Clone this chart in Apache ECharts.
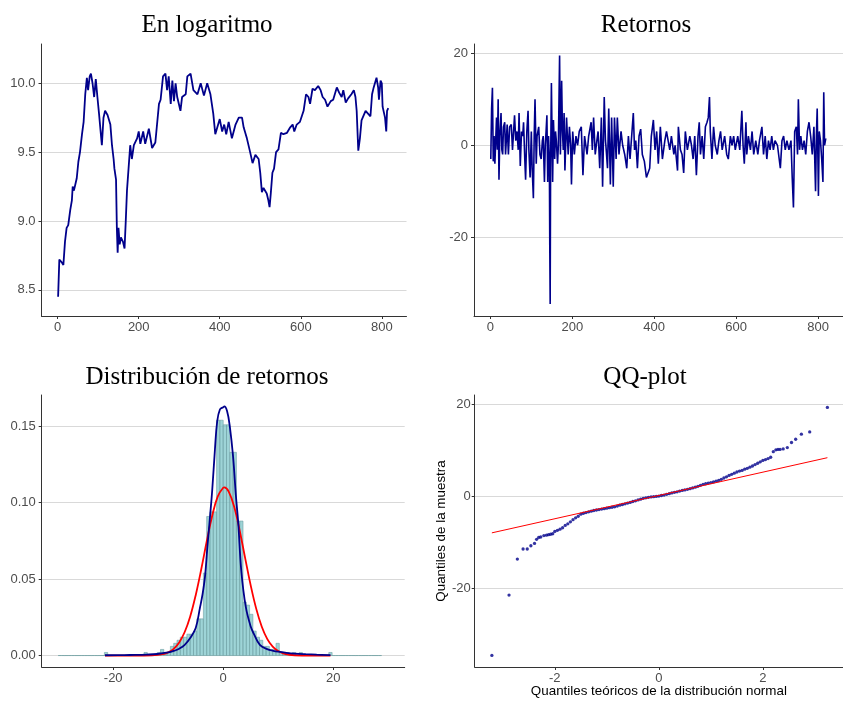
<!DOCTYPE html>
<html>
<head>
<meta charset="utf-8">
<script src="https://cdn.jsdelivr.net/npm/echarts@6/dist/echarts.min.js"></script>
<style>html,body{margin:0;padding:0;background:#fff}#c{width:843px;height:701px}</style>
</head>
<body>
<div id="c"></div>
<script>
// ---- Panel 1: En logaritmo ----
const logT = [1,4,10,14,18,22,26,31,35,37,40,47,51,55,60,64,68,72,75,79,82,86,90,94,98,102,105,109,113,117,123,130,134,138,140,144,146,148,150,153,156,161,165,168,171,175,179,183,188,196,200,204,211,216,225,233,241,250,254,260,266,270,274,279,283,287,291,295,303,307,316,320,328,335,345,353,361,369,377,384,389,393,400,406,411,416,422,430,439,447,455,459,467,475,481,488,496,500,504,508,512,516,520,523,526,530,534,539,545,551,557,566,574,580,584,590,598,607,613,619,623,629,635,643,649,654,660,666,674,680,689,695,701,705,711,717,725,731,735,738,742,746,750,754,760,766,772,776,780,787,791,793,797,800,802,805,808,811,813,816];
const logV = [8.45,8.72,8.70,8.68,8.85,8.95,8.97,9.08,9.15,9.25,9.22,9.31,9.43,9.50,9.63,9.72,9.92,10.04,9.95,10.05,10.07,10.0,9.90,10.03,9.90,9.78,9.78,9.55,9.75,9.80,9.77,9.70,9.55,9.45,9.38,9.30,8.95,8.77,8.95,8.83,8.88,8.85,8.80,9.0,9.22,9.23,9.55,9.45,9.55,9.60,9.65,9.56,9.65,9.56,9.67,9.53,9.57,9.85,9.88,10.05,10.07,9.95,10.05,9.85,10.02,9.87,10.0,9.90,9.80,9.90,9.92,10.05,10.07,9.95,9.92,10.0,9.91,10.0,9.92,9.78,9.63,9.64,9.74,9.65,9.70,9.63,9.72,9.60,9.70,9.75,9.75,9.68,9.60,9.50,9.42,9.48,9.45,9.35,9.21,9.24,9.22,9.20,9.15,9.10,9.20,9.35,9.38,9.50,9.52,9.64,9.63,9.64,9.68,9.70,9.65,9.70,9.72,9.80,9.92,9.90,9.85,9.96,9.95,9.98,9.95,9.90,9.88,9.83,9.87,9.88,9.97,9.93,9.90,9.95,9.86,9.89,9.92,9.95,9.90,9.80,9.51,9.60,9.73,9.72,9.80,9.78,9.76,9.92,9.97,10.04,9.97,9.88,10.02,10.0,9.83,9.82,9.75,9.65,9.80,9.82];
const logXTicks = [0,200,400,600,800];
const logYTicks = [8.5,9.0,9.5,10.0];

// ---- Panel 2: Retornos ----
const retT = [1,3,5,7,9,11,13,15,17,19,21,23,26,28,30,32,35,37,41,44,47,51,54,59,62,65,68,70,73,76,79,81,84,86,89,92,94,97,100,102,105,107,109,112,114,118,121,124,127,129,132,134,136,138,140,142,144,145,146,147,149,151,152,154,157,159,161,164,166,169,171,174,176,178,180,182,186,190,193,196,198,201,205,209,213,217,222,226,230,236,240,246,249,252,256,260,263,267,271,274,278,281,282,286,289,293,296,300,303,307,310,314,319,323,328,333,337,341,345,349,352,355,359,363,367,371,376,381,385,389,393,398,402,406,410,415,420,426,430,434,438,442,448,451,457,459,464,468,472,476,481,487,491,495,499,503,507,510,513,517,521,525,529,532,535,537,541,545,549,554,558,562,566,572,577,581,586,590,594,598,604,609,614,617,620,624,626,630,635,639,643,648,653,657,663,667,671,675,679,683,687,691,695,701,708,712,716,720,724,729,734,737,740,743,747,750,752,755,758,762,766,770,774,778,782,786,790,794,796,798,801,803,806,809,812,814,816,819];
const retV = [-3,8,12.5,-3.5,2,-4,1,6,-1,10,-7.5,2,7,-1,-2,4,5,-2,4.5,-2,4,4.5,-1,6.5,1,3,-1,7,-4.5,3,2,5,-3,-7.5,3,7.5,-1,-7,3,-5,-11.5,2,10,-4,2,4,-2,-3,1,2,-8,0,3,6.5,-8,2,-3,-21.5,-34.5,-5,13.5,-1,-8,5.5,-3,3,1,-4,0,19.5,-2,14,3,-1,7,-5.5,6,-2,4,0,-8.5,3,-2,2,0,3,4,-6.5,2,-2,2,5,-1,6,-2,1,3,-5,6,-9,10.5,1,0,-5,8,-8.5,6,-9,6,-3,6,-2,3,0,-2,-5,2,-3,2,7,-1,1,-5,2,3.5,-2,-3.5,-7,-7,-5,2,5.5,-1,3,-4,4,-3,1,3,3,-1,2,-2,0,-5.5,4,-1,-2,-6,3,-1,2,0,-3,2,-6.5,2,5,-2,2,-3,4,5,6,10.5,3,-3,4,0,-2,1,3,-1,2,-2,-3,2,0,2,-1,2,-1,7.5,0,-4,5,-2,2,-1,3,-2,1,-2,1,4,-2,2,-3,1,-1,2,-1,1,0,-5,1,2,-1,1,-1,1,-7,-13.5,3,4,-2,10,-1,2,-1,1,-2,3,5,2,-2,4,-10,2,8,-11,3,1,-3,-8,11.5,0,1.5];
const retYTicks = [-20,0,20];

// ---- Panel 3: Distribución de retornos ----
const binStart = -30;
const binWidth = 0.6;
const histDensity = [0,0,0,0,0,0,0,0,0,0,0,0,0,0,0.002,0,0,0,0,0,0,0,0,0,0,0,0.002,0,0,0,
  0.002,0.004,0.002,0.002,0.006,0.008,0.010,0.012,0.012,0.014,0.014,0.016,0.024,0.024,0.054,0.091,0.094,0.094,0.154,0.154,
  0.151,0.151,0.133,0.133,0.088,0.088,0.035,0.033,0.027,0.016,0.012,0.010,0.006,0.006,0.004,0.004,0.008,0.002,0.002,0.002,
  0,0.002,0,0.002,0,0,0,0,0,0,0,0,0.002,0,0,0,0,0,0,0,0,0,0,0,0,0,0,0];
const kdeX = [-21.5,-18,-16,-14,-12,-10,-9,-8,-7,-6,-5,-4.24,-3.76,-3.3,-2.9,-2.42,-2,-1.5,-1.1,-0.6,0,0.2,0.7,1.2,1.8,2.3,2.73,3.3,4.1,5,5.6,6.67,8,9.1,10,11.5,13,15,17,19.5];
const kdeY = [0.0002,0.0003,0.0004,0.0006,0.0010,0.0020,0.0030,0.0045,0.0070,0.0115,0.0180,0.031,0.040,0.052,0.070,0.090,0.108,0.135,0.153,0.161,0.1625,0.163,0.160,0.150,0.130,0.105,0.087,0.055,0.032,0.019,0.014,0.0070,0.0042,0.0031,0.0025,0.0018,0.0013,0.0009,0.0006,0.0003];
const normX = [-21.5,-16,-13,-11,-10,-9,-8,-7,-6,-5,-4,-3,-2,-1,0,0.2,1,2,3,4,5,6,7,8,9,10,11,13,16,19.5];
const normY = [0,0,0.0002,0.0009,0.0021,0.0044,0.0086,0.0154,0.0256,0.0395,0.0563,0.0746,0.0915,0.104,0.1098,0.110,0.1073,0.0973,0.0817,0.0636,0.0459,0.0307,0.0190,0.0109,0.0058,0.0029,0.0013,0.0002,0,0];
const histXTicks = [-20,0,20];
const histYTicks = [0,0.05,0.10,0.15];

// ---- Panel 4: QQ-plot ----
const qqTheo = [-3.21,-2.88,-2.72,-2.61,-2.53,-2.46,-2.39,-2.35,-2.31,-2.27,-2.21,-2.16,-2.12,-2.08,-2.04,
  -2.00,-1.95,-1.90,-1.85,-1.80,-1.75,-1.70,-1.65,-1.60,-1.55,-1.50,-1.45,-1.40,-1.35,-1.30,-1.25,-1.20,-1.15,-1.10,-1.05,
  -1.00,-0.95,-0.90,-0.85,-0.80,-0.75,-0.70,-0.65,-0.60,-0.55,-0.50,-0.45,-0.40,-0.35,-0.30,-0.25,-0.20,-0.15,-0.10,-0.05,
  0.00,0.05,0.10,0.15,0.20,0.25,0.30,0.35,0.40,0.45,0.50,0.55,0.60,0.65,0.70,0.75,0.80,0.85,0.90,0.95,
  1.00,1.05,1.10,1.15,1.20,1.25,1.30,1.35,1.40,1.45,1.50,1.55,1.60,1.65,1.70,1.75,1.80,1.85,1.90,1.95,
  2.00,2.05,2.10,2.15,2.20,2.25,2.29,2.33,2.39,2.47,2.55,2.63,2.74,2.90,3.24];
const qqSample = [-34.5,-21.4,-13.6,-11.4,-11.4,-10.7,-10.2,-9.3,-8.9,-8.8,-8.5,-8.4,-8.3,-8.2,-8.1,
  -7.6,-7.35,-7.1,-6.8,-6.3,-5.95,-5.5,-5.05,-4.65,-4.3,-3.85,-3.65,-3.5,-3.35,-3.2,-3.05,-2.95,-2.85,-2.75,-2.65,
  -2.55,-2.45,-2.35,-2.25,-2.1,-1.9,-1.75,-1.6,-1.45,-1.3,-1.1,-0.95,-0.75,-0.6,-0.42,-0.3,-0.2,-0.1,-0.05,0.0,
  0.07,0.2,0.3,0.45,0.6,0.75,0.88,1.0,1.15,1.3,1.42,1.55,1.68,1.85,2.0,2.2,2.4,2.6,2.75,2.9,
  3.0,3.15,3.3,3.45,3.7,4.0,4.25,4.55,4.8,5.05,5.3,5.5,5.65,5.9,6.1,6.35,6.6,6.9,7.2,7.5,
  7.8,8.0,8.2,8.5,9.7,10.1,10.2,10.2,10.3,10.6,11.7,12.4,13.5,14.0,19.3];
const qqLineX = [-3.21, 3.24];
const qqLineY = [-7.9, 8.4];
const qqXTicks = [-2,0,2];
const qqYTicks = [-20,0,20];

// ---- Build chart ----
const NAVY = '#00008B';
const LABEL = {color:'#4D4D4D', fontSize:13, fontFamily:'Liberation Sans, Arial, sans-serif'};
function xAx(grid, min, max, ticks, fmt, extra) {
  return Object.assign({
    type:'value', gridIndex:grid, min:min, max:max,
    axisLine:{show:true, onZero:false, lineStyle:{color:'#333333', width:1}},
    axisTick:{show:true, length:3, customValues:ticks, lineStyle:{color:'#333333'}},
    axisLabel:Object.assign({customValues:ticks, margin:5, formatter:fmt}, LABEL),
    splitLine:{show:false}
  }, extra||{});
}
function yAx(grid, min, max, ticks, fmt, extra, margin) {
  return Object.assign({
    type:'value', gridIndex:grid, min:min, max:max,
    axisLine:{show:true, onZero:false, lineStyle:{color:'#333333', width:1}},
    axisTick:{show:true, length:3, customValues:ticks, lineStyle:{color:'#333333'}},
    axisLabel:Object.assign({customValues:ticks, margin:margin||6, formatter:fmt}, LABEL),
    splitLine:{show:true, lineStyle:{color:'#D9D9D9', width:1}}
  }, extra||{});
}
const fmtInt = v => String(Math.round(v));
const TITLE = {fontFamily:'Liberation Serif, Times New Roman, serif', fontSize:25, fontWeight:'normal', color:'#000'};

const chart = echarts.init(document.getElementById('c'), null, {renderer:'canvas'});
chart.setOption({
  animation:false,
  backgroundColor:'#fff',
  title:[
    {text:'En logaritmo', left:202, top:8, textAlign:'center', textStyle:TITLE},
    {text:'Retornos', left:641, top:8, textAlign:'center', textStyle:TITLE},
    {text:'Distribución de retornos', left:202, top:360, textAlign:'center', textStyle:TITLE},
    {text:'QQ-plot', left:640, top:360, textAlign:'center', textStyle:TITLE}
  ],
  grid:[
    {left:41.5, top:44, width:365, height:272},
    {left:474, top:44, width:372, height:272},
    {left:41.7, top:395, width:363, height:272},
    {left:474.7, top:395, width:369, height:272}
  ],
  xAxis:[
    xAx(0, -40, 861, logXTicks, fmtInt),
    xAx(1, -40, 861, logXTicks, fmtInt),
    xAx(2, -33, 33, histXTicks, fmtInt),
    xAx(3, -3.54, 3.54, qqXTicks, fmtInt, {
      name:'Quantiles teóricos de la distribución normal', nameLocation:'middle', nameGap:18,
      nameMoveOverlap:false,
      nameTextStyle:{color:'#000', fontSize:13.4, fontFamily:'Liberation Sans, Arial, sans-serif'}
    })
  ],
  yAxis:[
    yAx(0, 8.31, 10.285, logYTicks, v => v.toFixed(1)),
    yAx(1, -37.1, 22.0, retYTicks, fmtInt),
    yAx(2, -0.0075, 0.1705, histYTicks, v => v.toFixed(2)),
    yAx(3, -37.0, 22.0, qqYTicks, fmtInt, {
      name:'Quantiles de la muestra', nameLocation:'middle', nameGap:27,
      nameMoveOverlap:false,
      nameTextStyle:{color:'#000', fontSize:13.4, fontFamily:'Liberation Sans, Arial, sans-serif'}
    }, 4)
  ],
  series:[
    {type:'line', xAxisIndex:0, yAxisIndex:0, data:logT.map((t,i)=>[t, logV[i]]),
      showSymbol:false, lineStyle:{color:NAVY, width:1.8}, itemStyle:{color:NAVY}},
    {type:'line', xAxisIndex:1, yAxisIndex:1, data:retT.map((t,i)=>[t, retV[i]]),
      showSymbol:false, lineStyle:{color:NAVY, width:1.6}, itemStyle:{color:NAVY}},
    {type:'custom', xAxisIndex:2, yAxisIndex:2,
      data:histDensity.map((d,i)=>[binStart + i*binWidth, d]),
      encode:{x:0, y:1},
      renderItem:function(params, api){
        const x0 = api.value(0), d = api.value(1);
        const p0 = api.coord([x0, 0]);
        const p1 = api.coord([x0 + binWidth, d]);
        return {type:'rect', shape:{x:p0[0], y:p1[1], width:p1[0]-p0[0], height:p0[1]-p1[1]},
          style:{fill:'rgba(120,196,200,0.72)', stroke:'#6F9FA2', lineWidth:0.6}};
      }},
    {type:'line', xAxisIndex:2, yAxisIndex:2, data:normX.map((x,i)=>[x, normY[i]]),
      smooth:0.4, showSymbol:false, lineStyle:{color:'#FF0000', width:1.8}, itemStyle:{color:'#FF0000'}},
    {type:'line', xAxisIndex:2, yAxisIndex:2, data:kdeX.map((x,i)=>[x, kdeY[i]]),
      smooth:0.4, showSymbol:false, lineStyle:{color:NAVY, width:1.8}, itemStyle:{color:NAVY}},
    {type:'scatter', xAxisIndex:3, yAxisIndex:3, data:qqTheo.map((x,i)=>[x, qqSample[i]]),
      symbolSize:3.3, itemStyle:{color:NAVY}},
    {type:'line', xAxisIndex:3, yAxisIndex:3, data:qqLineX.map((x,i)=>[x, qqLineY[i]]),
      showSymbol:false, lineStyle:{color:'#FF0000', width:1}, itemStyle:{color:'#FF0000'}}
  ]
});
</script>
</body>
</html>
